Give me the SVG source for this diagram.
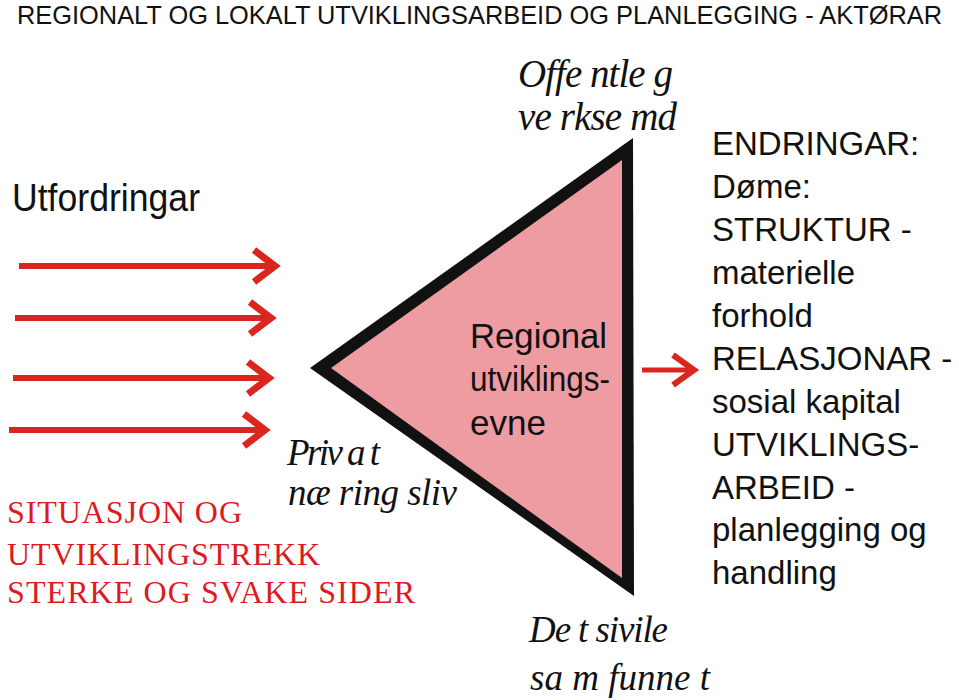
<svg xmlns="http://www.w3.org/2000/svg" width="959" height="700" viewBox="0 0 959 700">
<style>
.sans{font-family:"Liberation Sans",Arial,sans-serif;fill:#111}
.ital{font-family:"Liberation Serif","Times New Roman",serif;font-style:italic;fill:#111}
.red{font-family:"Liberation Serif","Times New Roman",serif;fill:#dd1a22}
.arr{stroke:#d9261f;fill:none;stroke-linejoin:miter}
</style>
<rect width="959" height="700" fill="#fff"/>
<g id="title"><text class="sans" x="17" y="24" font-size="25" textLength="925" lengthAdjust="spacingAndGlyphs">REGIONALT OG LOKALT UTVIKLINGSARBEID OG PLANLEGGING - AKTØRAR</text></g>
<g id="utfordringar"><text class="sans" x="12" y="211" font-size="38" textLength="188" lengthAdjust="spacingAndGlyphs">Utfordringar</text></g>
<g id="triangle">
<polygon points="310,368 633,138 634,596" fill="#111"/>
<polygon points="331,368 622,160 622,578" fill="#ee9ba1"/>
<text class="sans" font-size="35"><tspan x="470" y="348" textLength="137" lengthAdjust="spacingAndGlyphs">Regional</tspan><tspan x="470" y="391" textLength="140" lengthAdjust="spacingAndGlyphs">utviklings-</tspan><tspan x="470" y="435" textLength="76" lengthAdjust="spacingAndGlyphs">evne</tspan></text>
</g>
<g id="offentleg"><text class="ital" font-size="39"><tspan x="518" y="87" textLength="155">Offe ntle g</tspan><tspan x="518" y="130" textLength="159">ve rkse md</tspan></text></g>
<g id="privat"><text class="ital" font-size="37"><tspan x="287" y="465" textLength="93">Priv a t</tspan><tspan x="288" y="505" textLength="169">næ ring sliv</tspan></text></g>
<g id="sivile"><text class="ital" font-size="37"><tspan x="529" y="642" textLength="139">De t sivile</tspan><tspan x="530" y="690" textLength="180">sa m funne t</tspan></text></g>
<g id="situasjon"><text class="red" font-size="32"><tspan x="7" y="523" textLength="235">SITUASJON OG</tspan><tspan x="7" y="565" textLength="313">UTVIKLINGSTREKK</tspan><tspan x="7" y="603" textLength="408">STERKE OG SVAKE SIDER</tspan></text></g>
<g id="endringar"><text class="sans" font-size="33">
<tspan x="712" y="155">ENDRINGAR:</tspan>
<tspan x="712" y="198">Døme:</tspan>
<tspan x="712" y="241">STRUKTUR -</tspan>
<tspan x="712" y="284">materielle</tspan>
<tspan x="712" y="327">forhold</tspan>
<tspan x="712" y="370">RELASJONAR -</tspan>
<tspan x="712" y="413">sosial kapital</tspan>
<tspan x="712" y="456">UTVIKLINGS-</tspan>
<tspan x="712" y="499">ARBEID -</tspan>
<tspan x="712" y="541">planlegging og</tspan>
<tspan x="712" y="584">handling</tspan>
</text></g>
<g id="connectors">
<g class="arr" stroke-width="6">
<line x1="19" y1="266" x2="274" y2="266"/><polyline points="254,250 275,266 254,282" stroke-width="7"/>
<line x1="15" y1="318" x2="270" y2="318"/><polyline points="250,302 271,318 250,334" stroke-width="7"/>
<line x1="13" y1="378" x2="268" y2="378"/><polyline points="248,362 269,378 248,394" stroke-width="7"/>
<line x1="9" y1="430" x2="264" y2="430"/><polyline points="244,414 265,430 244,446" stroke-width="7"/>
<line x1="642" y1="370" x2="693" y2="370" stroke-width="5"/><polyline points="673,355 694,370 673,385" stroke-width="6"/>
</g>
</g>
</svg>
